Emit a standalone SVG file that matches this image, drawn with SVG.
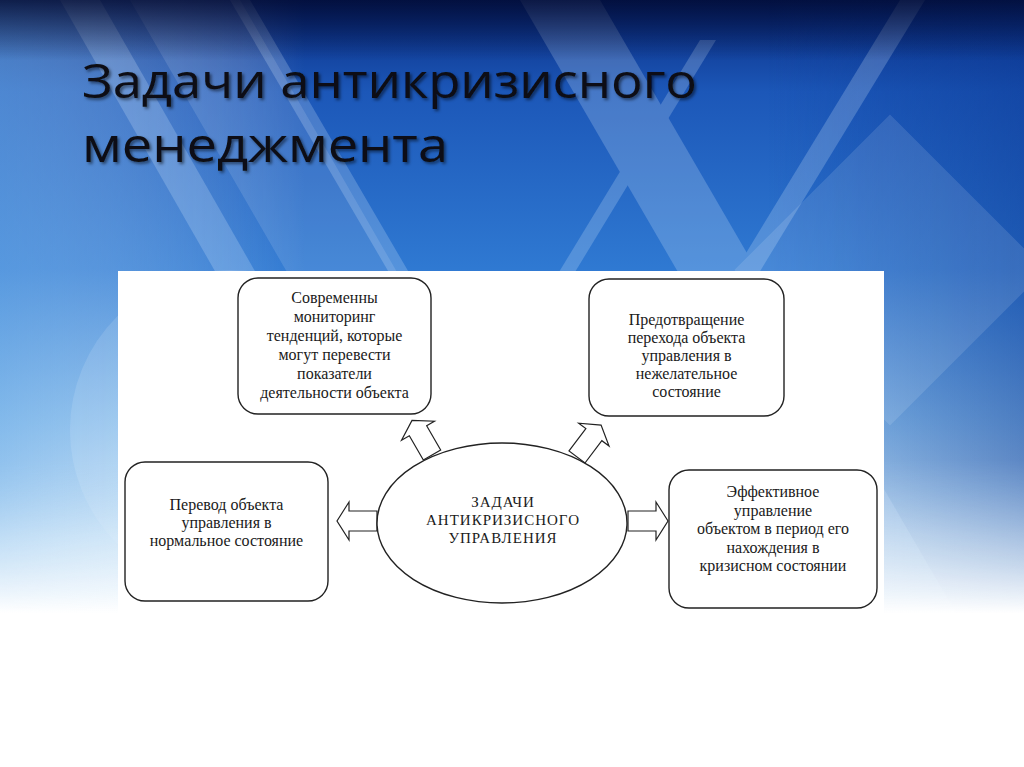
<svg xmlns="http://www.w3.org/2000/svg" width="1024" height="767" viewBox="0 0 1024 767">
<defs>
<linearGradient id="bg" x1="0" y1="0" x2="0" y2="1">
<stop offset="0" stop-color="#082a7e"/>
<stop offset="0.12" stop-color="#1c57b8"/>
<stop offset="0.35" stop-color="#2f79d2"/>
<stop offset="0.55" stop-color="#86bbea"/>
<stop offset="0.70" stop-color="#d6eaf9"/>
<stop offset="0.80" stop-color="#ffffff"/>
<stop offset="1" stop-color="#ffffff"/>
</linearGradient>
<linearGradient id="side" x1="0" y1="0" x2="1" y2="0">
<stop offset="0" stop-color="#7fb8ec" stop-opacity="0.5"/>
<stop offset="0.3" stop-color="#ffffff" stop-opacity="0"/>
<stop offset="0.75" stop-color="#0a3a9a" stop-opacity="0"/>
<stop offset="1" stop-color="#0a3590" stop-opacity="0.45"/>
</linearGradient>
<linearGradient id="fadev" x1="0" y1="0" x2="0" y2="1">
<stop offset="0" stop-color="#fff"/>
<stop offset="0.6" stop-color="#fff"/>
<stop offset="0.8" stop-color="#000"/>
</linearGradient>
<mask id="m" maskUnits="userSpaceOnUse" x="0" y="0" width="1024" height="767">
<rect x="0" y="0" width="1024" height="767" fill="url(#fadev)"/>
</mask>
<linearGradient id="topdark" x1="0" y1="0" x2="0" y2="1">
<stop offset="0" stop-color="#020a30" stop-opacity="0.8"/>
<stop offset="1" stop-color="#020a30" stop-opacity="0"/>
</linearGradient>
<filter id="sh" x="-5%" y="-20%" width="110%" height="140%">
<feDropShadow dx="2" dy="2" stdDeviation="1.5" flood-color="#000" flood-opacity="0.5"/>
</filter>
<path id="arr" d="M0,-10 L28,-10 L28,-19 L40,0 L28,19 L28,10 L0,10 Z"/>
<style>
.box{fill:#fff;stroke:#222;stroke-width:1.4}
.t{font-family:"Liberation Serif","Times New Roman",serif;font-size:16px;fill:#1a1a1a;text-anchor:middle}
.c{font-family:"Liberation Serif","Times New Roman",serif;font-size:15px;fill:#1a1a1a;text-anchor:middle;letter-spacing:1px}
.a{fill:#fff;stroke:#222;stroke-width:1.2}
.title{font-family:"Open Sans","Noto Sans",sans-serif;font-size:47px;fill:#0d0d12}
</style>
</defs>
<rect x="0" y="0" width="1024" height="767" fill="url(#bg)"/>
<g mask="url(#m)">
<rect x="0" y="0" width="1024" height="767" fill="url(#side)"/>
<g opacity="0.22" fill="#dff0ff">
<polygon points="60,0 100,0 420,560 380,560"/>
<polygon points="230,0 250,0 600,600 580,600"/>
<polygon points="520,0 600,0 960,620 880,620"/>
<polygon points="700,40 716,40 400,560 384,560"/>
<polygon points="900,0 925,0 560,600 535,600"/>
</g>
<g opacity="0.12" fill="#ffffff">
<polygon points="130,0 240,0 540,520 430,520"/>
<polygon points="780,160 1000,160 1000,380 780,380" transform="rotate(45 890 270)"/>
<circle cx="230" cy="430" r="160"/>
</g>
</g>
<rect x="0" y="0" width="1024" height="60" fill="url(#topdark)"/>
<g id="title" filter="url(#sh)">
<text class="title" x="82" y="98" textLength="615" lengthAdjust="spacingAndGlyphs">Задачи антикризисного</text>
<text class="title" x="82" y="162" textLength="366" lengthAdjust="spacingAndGlyphs">менеджмента</text>
</g>
<rect x="118" y="271" width="766" height="345" fill="#ffffff"/>
<g id="connectors">
<use href="#arr" class="a" transform="translate(432,455) rotate(-120)"/>
<use href="#arr" class="a" transform="translate(577,457) rotate(-53)"/>
<use href="#arr" class="a" transform="translate(377,521) rotate(180)"/>
<use href="#arr" class="a" transform="translate(628,521)"/>
</g>
<g id="center">
<ellipse cx="502" cy="523" rx="125" ry="80" class="box"/>
<text class="c" x="503" y="507">ЗАДАЧИ</text>
<text class="c" x="503" y="525">АНТИКРИЗИСНОГО</text>
<text class="c" x="503" y="543">УПРАВЛЕНИЯ</text>
</g>
<g id="monitoring">
<rect x="238" y="278" width="193" height="136" rx="20" class="box"/>
<text class="t" x="334.5" y="303">Современны</text>
<text class="t" x="334.5" y="322">мониторинг</text>
<text class="t" x="334.5" y="341">тенденций, которые</text>
<text class="t" x="334.5" y="360">могут перевести</text>
<text class="t" x="334.5" y="379">показатели</text>
<text class="t" x="334.5" y="398">деятельности объекта</text>
</g>
<g id="prevention">
<rect x="589" y="279" width="195" height="137" rx="20" class="box"/>
<text class="t" x="686.5" y="325">Предотвращение</text>
<text class="t" x="686.5" y="343">перехода объекта</text>
<text class="t" x="686.5" y="361">управления в</text>
<text class="t" x="686.5" y="379">нежелательное</text>
<text class="t" x="686.5" y="397">состояние</text>
</g>
<g id="normal">
<rect x="125" y="462" width="203" height="139" rx="20" class="box"/>
<text class="t" x="226.5" y="510">Перевод объекта</text>
<text class="t" x="226.5" y="528">управления в</text>
<text class="t" x="226.5" y="546">нормальное состояние</text>
</g>
<g id="effective">
<rect x="669" y="470" width="208" height="138" rx="20" class="box"/>
<text class="t" x="773" y="497">Эффективное</text>
<text class="t" x="773" y="515.5">управление</text>
<text class="t" x="773" y="534">объектом в период его</text>
<text class="t" x="773" y="552.5">нахождения в</text>
<text class="t" x="773" y="571">кризисном состоянии</text>
</g>
</svg>
